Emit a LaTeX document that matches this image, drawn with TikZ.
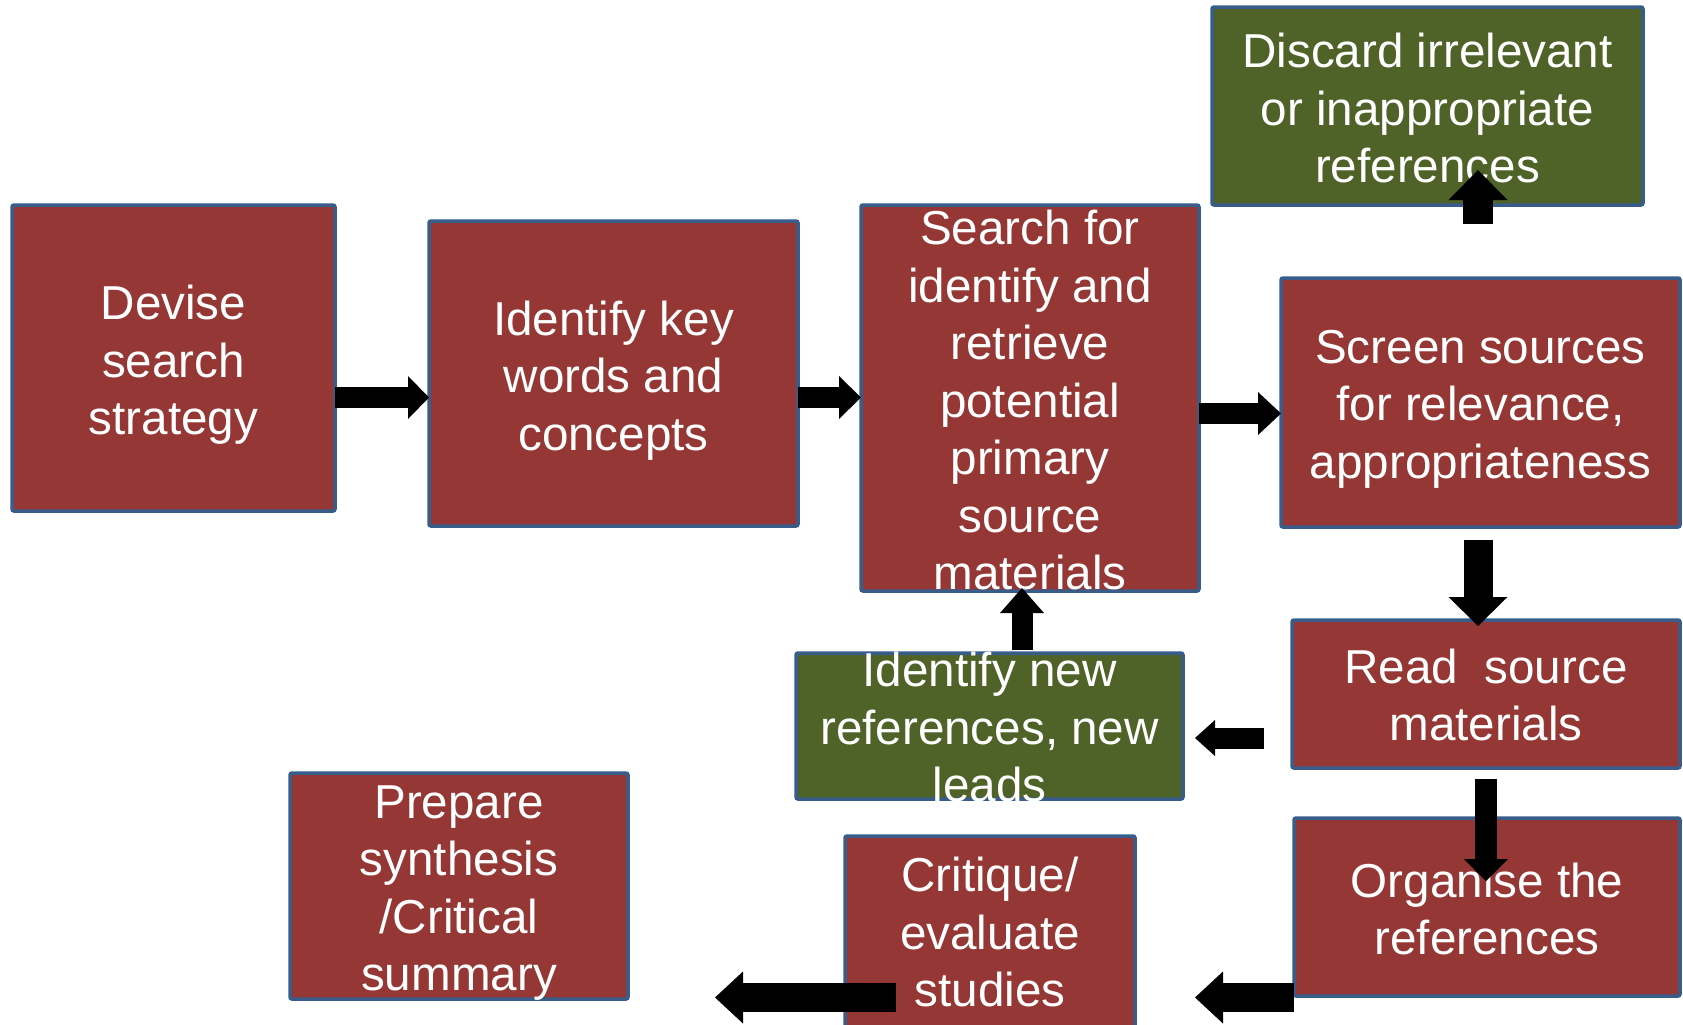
\documentclass[tikz,border=0pt]{standalone}
\usepackage{fontspec}
\setmainfont{Liberation Sans}
\usetikzlibrary{arrows.meta,fit,calc}
\definecolor{redc}{RGB}{149,55,53}
\definecolor{greenc}{RGB}{79,98,40}
\definecolor{bordc}{RGB}{56,93,138}
\tikzset{
  box/.style={draw=bordc, line width=1.75pt, rounded corners=1pt, inner sep=0pt, outer sep=0pt},
  redbox/.style={box, fill=redc},
  greenbox/.style={box, fill=greenc},
  txt/.style={text=white, align=center, inner sep=0pt, font=\fontsize{23.8}{28.75}\selectfont},
  blockarrow/.style n args={3}{draw=black, line width=#1, -{Triangle[width=#2,length=#3,line width=0pt]}}
}
\begin{document}
\begin{tikzpicture}[x=0.5pt,y=-0.5pt]
\useasboundingbox (0,0) rectangle (1683,1024);
\clip (0,0) rectangle (1683,1024);
% boxes
\node[redbox, fit={(12,205) (335,511)}] (n1) {};
\node[redbox, fit={(429,221) (798,526)}] (n2) {};
\node[redbox, fit={(861,205) (1199,591)}] (n3) {};
\node[redbox, fit={(1281,278) (1680,527)}] (n4) {};
\node[greenbox, fit={(1212,7) (1643,205)}] (n5) {};
\node[redbox, fit={(1292,620) (1680,768)}] (n6) {};
\node[redbox, fit={(1294,818) (1680,996)}] (n7) {};
\node[greenbox, fit={(796,653) (1183,799)}] (n8) {};
\node[redbox, fit={(845,836) (1135,1040)}] (n9) {};
\node[redbox, fit={(290,773) (628,999)}] (n10) {};
% texts
\node[txt] (t1) at ($(n1.center)+(0,7)$) {Devise\\search\\strategy};
\node[txt] (t2) at ($(n2.center)+(0,7)$) {Identify key\\words and\\concepts};
\node[txt] (t3) at ($(n3.center)+(0,2)$) {Search for\\identify and\\retrieve\\potential\\primary\\source\\materials};
\node[txt] (t4) at ($(n4.center)+(0,6.5)$) {Screen sources\\for relevance,\\appropriateness};
\node[txt] (t5) at ($(n5.center)+(0,2)$) {Discard irrelevant\\or inappropriate\\references};
\node[txt] (t6) at ($(n6.center)+(0,1)$) {Read\ \ source\\materials};
\node[txt] (t7) at ($(n7.center)+(0,2)$) {Organise the\\references};
\node[txt] (t8) at ($(n8.center)+(0,1)$) {Identify new\\references, new\\leads};
\node[txt] (t9) at (990,932) {Critique/\\evaluate\\studies};
\node[txt] (t10) at ($(n10.center)+(0,7)$) {Prepare\\synthesis\\/Critical\\summary};
% arrows
\draw[blockarrow={10.5pt}{21.5pt}{10.5pt}] (n1.east |- 0,397.5) -- (n2.west |- 0,397.5);
\draw[blockarrow={10.5pt}{21.5pt}{11pt}] (n2.east |- 0,397.5) -- (n3.west |- 0,397.5);
\draw[blockarrow={10.5pt}{21.5pt}{11.5pt}] (n3.east |- 0,413.5) -- (n4.west |- 0,413.5);
\draw[blockarrow={15pt}{29.5pt}{15pt}] ($(n4.north -| 1478,0)+(0,-54)$) -- ($(n5.south -| 1478,0)+(0,-35)$);
\draw[blockarrow={14.5pt}{29.5pt}{14.5pt}] ($(n4.south -| 1478,0)+(0,13)$) -- ($(n6.north -| 1478,0)+(0,6)$);
\draw[blockarrow={11pt}{22pt}{11pt}] ($(n6.south -| 1486,0)+(0,11)$) -- ($(n7.north -| 1486,0)+(0,63)$);
\draw[blockarrow={10.5pt}{18pt}{10pt}] ($(n6.west |- 0,738)+(-28,0)$) -- ($(n8.east |- 0,738)+(12,0)$);
\draw[blockarrow={10.5pt}{22pt}{12.5pt}] ($(n8.north -| 1022,0)+(0,-3)$) -- ($(n3.south -| 1022,0)+(0,-3)$);
\draw[blockarrow={14.5pt}{26pt}{14pt}] (n7.west |- 0,997.5) -- ($(n9.east |- 0,997.5)+(60,0)$);
\draw[blockarrow={14.5pt}{26pt}{14pt}] ($(n9.west |- 0,997.5)+(51,0)$) -- ($(n10.east |- 0,997.5)+(87,0)$);
\end{tikzpicture}
\end{document}
